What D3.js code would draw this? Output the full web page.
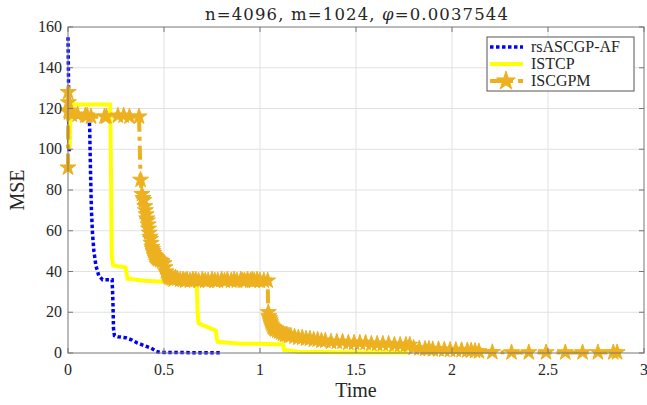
<!DOCTYPE html>
<html>
<head>
<meta charset="utf-8">
<script src="https://cdn.jsdelivr.net/npm/d3@7"></script>
<style>
  body { margin: 0; background: #fff; }
  text { font-family: "Liberation Serif", "Times New Roman", serif; fill: #262626; }
</style>
</head>
<body>
<div id="chart"></div>
<script>
// rsASCGP-AF
const rsTime = [0, 0.002, 0.004, 0.006, 0.01, 0.11, 0.113, 0.117, 0.122, 0.128, 0.135, 0.145, 0.16, 0.18, 0.2, 0.23, 0.234, 0.237, 0.242, 0.26, 0.3, 0.33, 0.36, 0.4, 0.43, 0.45, 0.46, 0.47, 0.5, 0.6, 0.7, 0.8];
const rsMse  = [155, 140, 120, 99, 116, 116, 110, 90, 70, 58, 50, 43, 38, 36, 36, 36, 25, 12, 8.5, 8, 7.5, 6.5, 5, 3.5, 2.5, 1.5, 0.8, 0.5, 0.3, 0.2, 0.15, 0.1];

// ISTCP
const isTime = [0.008, 0.012, 0.015, 0.03, 0.22, 0.225, 0.228, 0.235, 0.3, 0.31, 0.4, 0.5, 0.6, 0.67, 0.675, 0.68, 0.77, 0.775, 0.78, 0.9, 1.0, 1.12, 1.125, 1.2, 1.4, 1.6, 1.77];
const isMse  = [100, 118, 122, 122, 122, 80, 48, 43, 42, 36.5, 35.5, 35, 35, 35, 20, 14.5, 11, 7, 5.5, 4.5, 4.5, 4.2, 1.5, 0.6, 0.4, 0.3, 0.3];

// ISCGPM
const gpTime = [0, 0.001, 0.002, 0.003, 0.005, 0.02, 0.05, 0.09, 0.1, 0.12, 0.19, 0.2, 0.26, 0.29, 0.32, 0.37,
  0.378, 0.385, 0.39, 0.395, 0.4, 0.403, 0.407, 0.41, 0.413, 0.417, 0.42, 0.423, 0.427, 0.43, 0.433, 0.437, 0.44, 0.443, 0.447, 0.45, 0.455, 0.46, 0.465, 0.47, 0.48, 0.49, 0.5,
  0.505, 0.51, 0.515, 0.52, 0.525, 0.53, 0.54, 0.55, 0.56, 0.57, 0.585, 0.6, 0.61, 0.62, 0.635, 0.65, 0.665, 0.68, 0.7, 0.715, 0.73, 0.75, 0.765, 0.78, 0.8, 0.815, 0.83, 0.85, 0.865, 0.88, 0.9, 0.91, 0.92, 0.935, 0.95, 0.96, 0.97, 0.985, 1.0, 1.02, 1.04,
  1.043, 1.046, 1.05, 1.053, 1.056, 1.06, 1.065, 1.07, 1.075, 1.08, 1.09, 1.1, 1.11, 1.12, 1.13, 1.14, 1.15, 1.16, 1.18, 1.2, 1.22, 1.24, 1.26, 1.28, 1.3, 1.32, 1.34, 1.37, 1.4, 1.43, 1.46, 1.49, 1.52, 1.55, 1.58, 1.61, 1.64, 1.67, 1.7, 1.73, 1.76, 1.78,
  1.8, 1.83, 1.86, 1.88, 1.9, 1.93, 1.96, 1.99, 2.02, 2.05, 2.08, 2.1, 2.12, 2.14, 2.21, 2.31, 2.4, 2.49, 2.59, 2.68, 2.76, 2.84, 2.86];
const gpMse  = [91, 128, 123, 119, 118, 117, 117, 116.5, 116.5, 116, 116, 116, 116.5, 116.5, 116, 116,
  85, 78, 76, 75, 72, 70, 68, 66, 65, 63, 61, 59, 57, 56, 54, 52, 51, 50, 49, 48, 47.5, 47, 46.5, 46, 45.5, 45, 44,
  42, 40, 39, 38, 37.5, 37, 36.5, 36, 37, 36.5, 36, 36, 35.5, 36, 35.5, 36, 36, 35.5, 36, 35.5, 35.5, 36, 35.5, 35.5, 36, 35.5, 36, 35.5, 36, 35.5, 36, 35.5, 35.5, 36, 35.5, 36, 35.5, 36, 35.5, 35.5, 35.5,
  20, 18, 17, 16, 15, 14, 13, 12.5, 12, 11.5, 11, 10.5, 10, 9.5, 9, 9, 8.5, 8.5, 8, 7.5, 7.5, 7, 7, 6.5, 6.5, 6, 6, 5.5, 5.5, 5.5, 5, 5, 5, 5, 4.5, 4.5, 4.5, 4.5, 4, 4, 4, 4,
  2.5, 2.2, 2, 2, 1.8, 1.8, 1.6, 1.5, 1.5, 1.4, 1.3, 1.2, 1.0, 0.8, 0.4, 0.3, 0.3, 0.3, 0.3, 0.3, 0.3, 0.3, 0.3];

const xTicks = [0, 0.5, 1, 1.5, 2, 2.5, 3];
const yTicks = [0, 20, 40, 60, 80, 100, 120, 140, 160];

const width = 647, height = 405;
const margin = { top: 27, right: 3, bottom: 52, left: 68 };

const svg = d3.select("#chart").append("svg")
    .attr("width", width)
    .attr("height", height);

const x = d3.scaleLinear().domain([0, 3]).range([margin.left, width - margin.right]);
const y = d3.scaleLinear().domain([0, 160]).range([height - margin.bottom, margin.top]);

// grid
svg.append("g").selectAll("line")
    .data(xTicks.slice(1, -1))
    .enter().append("line")
    .attr("x1", d => x(d)).attr("x2", d => x(d))
    .attr("y1", y(0)).attr("y2", y(160))
    .attr("stroke", "#e1e1e1");
svg.append("g").selectAll("line")
    .data(yTicks.slice(1, -1))
    .enter().append("line")
    .attr("x1", x(0)).attr("x2", x(3))
    .attr("y1", d => y(d)).attr("y2", d => y(d))
    .attr("stroke", "#e1e1e1");

const plot = svg.append("g");

const line = d3.line().x(d => x(d[0])).y(d => y(d[1]));

plot.append("path")
    .datum(d3.zip(rsTime, rsMse))
    .attr("fill", "none")
    .attr("stroke", "#0000ff")
    .attr("stroke-width", 3.5)
    .attr("stroke-dasharray", "3.5,2.5")
    .attr("d", line);

plot.append("path")
    .datum(d3.zip(isTime, isMse))
    .attr("fill", "none")
    .attr("stroke", "#ffff00")
    .attr("stroke-width", 4)
    .attr("d", line);

const gpData = d3.zip(gpTime, gpMse);
plot.append("path")
    .datum(gpData)
    .attr("fill", "none")
    .attr("stroke", "#edb120")
    .attr("stroke-width", 4)
    .attr("stroke-dasharray", "14,5,4,5")
    .attr("d", line);

const star = d3.symbol().type(d3.symbolStar).size(80);
plot.append("g").selectAll("path")
    .data(gpData)
    .enter().append("path")
    .attr("transform", d => `translate(${x(d[0])},${y(d[1])})`)
    .attr("d", star)
    .attr("fill", "#edb120")
    .attr("stroke", "#edb120")
    .attr("stroke-width", 1);

// axes box with inward ticks
const axisColor = "#777";
svg.append("rect")
    .attr("x", x(0)).attr("y", y(160))
    .attr("width", x(3) - x(0)).attr("height", y(0) - y(160))
    .attr("fill", "none").attr("stroke", axisColor);

const tickLen = 5;
const tg = svg.append("g").attr("stroke", axisColor);
xTicks.forEach(t => {
    tg.append("line").attr("x1", x(t)).attr("x2", x(t)).attr("y1", y(0)).attr("y2", y(0) - tickLen);
    tg.append("line").attr("x1", x(t)).attr("x2", x(t)).attr("y1", y(160)).attr("y2", y(160) + tickLen);
});
yTicks.forEach(t => {
    tg.append("line").attr("x1", x(0)).attr("x2", x(0) + tickLen).attr("y1", y(t)).attr("y2", y(t));
    tg.append("line").attr("x1", x(3)).attr("x2", x(3) - tickLen).attr("y1", y(t)).attr("y2", y(t));
});

svg.append("g").selectAll("text")
    .data(xTicks)
    .enter().append("text")
    .attr("x", d => x(d))
    .attr("y", y(0) + 22)
    .attr("text-anchor", "middle")
    .attr("font-size", 16)
    .text(d => d);

svg.append("g").selectAll("text")
    .data(yTicks)
    .enter().append("text")
    .attr("x", x(0) - 6)
    .attr("y", d => y(d) + 5)
    .attr("text-anchor", "end")
    .attr("font-size", 16)
    .text(d => d);

// labels
svg.append("text")
    .attr("x", (x(0) + x(3)) / 2)
    .attr("y", 397)
    .attr("text-anchor", "middle")
    .attr("font-size", 20)
    .text("Time");

svg.append("text")
    .attr("transform", `translate(24,${(y(0) + y(160)) / 2}) rotate(-90)`)
    .attr("text-anchor", "middle")
    .attr("font-size", 20)
    .text("MSE");

const title = svg.append("text")
    .attr("x", 205)
    .attr("y", 20)
    .attr("textLength", 303)
    .attr("lengthAdjust", "spacing")
    .style("font-family", "'DejaVu Serif', serif")
    .attr("font-size", 16.5);
title.append("tspan").text("n=4096, m=1024, ");
title.append("tspan").attr("font-style", "italic").text("φ");
title.append("tspan").text("=0.0037544");

// legend
const legendNames = ["rsASCGP-AF", "ISTCP", "ISCGPM"];
const legend = svg.append("g");
legend.append("rect")
    .attr("x", 487).attr("y", 37).attr("width", 147).attr("height", 54)
    .attr("fill", "#fff").attr("stroke", "#555");

const rows = legend.selectAll("g.row")
    .data(legendNames)
    .enter().append("g")
    .attr("transform", (d, i) => `translate(0,${47 + i * 17})`);

rows.append("line")
    .attr("x1", 490).attr("x2", 523).attr("y1", 0).attr("y2", 0)
    .attr("stroke", (d, i) => ["#0000ff", "#ffff00", "#edb120"][i])
    .attr("stroke-width", (d, i) => i === 0 ? 3.5 : 4)
    .attr("stroke-dasharray", (d, i) => i === 0 ? "3.5,2.5" : i === 2 ? "14,5,4,5" : null);

rows.filter((d, i) => i === 2).append("path")
    .attr("transform", "translate(506,0)")
    .attr("d", d3.symbol().type(d3.symbolStar).size(110))
    .attr("fill", "#edb120")
    .attr("stroke", "#edb120");

rows.append("text")
    .attr("x", 531)
    .attr("y", 5)
    .attr("font-size", 16)
    .text(d => d);
</script>
</body>
</html>
